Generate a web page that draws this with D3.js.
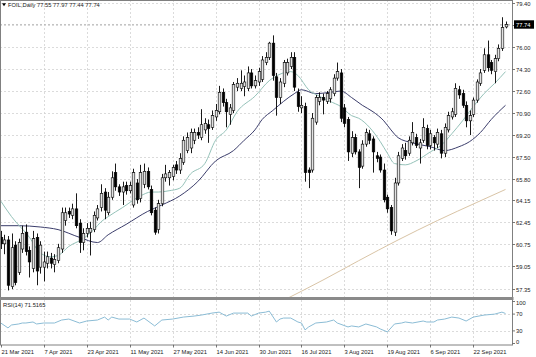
<!DOCTYPE html>
<html><head><meta charset="utf-8">
<script src="https://cdn.jsdelivr.net/npm/d3@7"></script>
<style>
body{margin:0;background:#fff;}
svg{display:block;}
text{font-family:"Liberation Sans",Arial,sans-serif;}
</style>
</head><body>
<svg id="c" width="536" height="357"></svg>
<script>
// ---------- data ----------
const opens  = [61.3,60.8,61.1,57.5,60.7,58.6,60.4,61.7,60.3,58.9,61.3,59.0,59.0,59.3,59.7,59.2,59.5,60.4,62.6,63.3,63.0,63.5,62.4,60.9,61.6,61.7,61.9,62.8,63.6,64.8,63.2,64.4,66.3,65.2,64.8,65.3,64.9,63.8,65.5,64.3,65.4,66.4,65.0,63.4,61.9,63.9,65.9,65.9,66.0,66.9,66.5,67.1,68.0,68.2,68.8,69.4,69.0,69.6,70.0,69.8,70.6,71.0,72.5,71.7,70.8,71.1,72.9,72.8,72.95,72.8,74.0,73.0,73.3,73.5,74.8,75.2,76.3,73.7,72.1,73.2,74.0,74.5,75.2,72.5,71.3,71.4,66.5,66.5,70.2,71.8,72.1,71.8,72.0,72.4,73.6,74.0,71.3,70.4,67.8,69.0,67.9,66.8,68.5,69.3,68.9,67.6,67.5,66.5,64.4,63.6,61.7,65.5,67.4,68.0,67.8,68.6,69.0,68.2,68.8,69.7,68.4,69.0,68.5,69.3,67.8,69.6,70.6,70.8,72.7,72.4,71.5,70.3,70.8,71.9,73.2,74.2,75.4,74.8,74.1,75.1,75.9,77.55];
const highs  = [61.8,61.5,61.4,61.6,61.0,61.2,62.2,62.3,60.6,61.8,61.6,61.0,60.2,60.2,60.1,60.0,60.8,63.6,63.6,63.6,63.9,64.7,62.7,62.0,62.4,62.5,63.3,63.8,65.4,65.1,64.8,66.4,67.0,65.4,65.6,65.6,65.6,66.6,65.8,66.9,67.0,66.7,65.3,63.6,64.2,66.2,66.9,66.5,66.9,67.2,67.8,69.1,69.4,69.7,69.7,69.8,71.2,70.5,70.4,71.1,71.6,73.0,72.8,72.0,71.6,73.3,73.6,74.2,73.8,74.5,74.3,73.8,74.4,75.3,75.6,76.4,76.9,74.0,73.6,75.0,75.1,75.6,75.6,72.8,72.2,71.7,66.7,70.9,72.3,72.5,72.4,72.6,72.9,73.9,74.8,74.3,71.6,70.6,69.5,69.3,68.1,68.8,69.7,69.6,69.1,67.9,67.7,67.0,64.6,63.8,65.9,67.9,68.5,68.6,69.1,70.2,69.3,68.9,70.5,70.0,69.6,69.2,69.7,69.6,70.1,71.0,71.3,73.2,73.0,72.7,71.8,71.1,72.1,73.5,74.3,75.9,76.5,75.0,75.4,76.2,78.3,77.97];
const lows   = [60.4,60.0,57.2,57.3,57.6,58.4,60.1,59.9,58.2,58.6,57.6,58.5,57.9,58.9,58.9,58.6,59.3,60.1,62.2,62.8,62.7,62.0,60.1,60.3,61.3,59.9,61.7,62.6,63.3,62.7,63.0,64.2,64.9,64.5,63.8,64.6,64.7,63.6,63.9,64.0,65.1,65.0,63.0,61.5,61.6,63.7,65.6,65.3,65.7,66.2,66.2,66.9,67.8,67.8,68.5,68.9,68.8,69.3,68.6,69.6,70.3,70.8,71.4,69.8,70.0,70.9,72.6,72.6,72.2,72.6,72.8,72.8,73.0,73.3,74.6,75.0,73.4,70.7,71.6,72.9,73.8,74.3,72.6,71.0,70.9,65.6,65.1,66.3,70.0,71.5,70.8,71.6,71.7,72.2,73.4,70.2,69.8,67.2,67.5,67.7,65.1,66.6,68.3,68.5,66.3,67.1,66.3,64.0,63.2,61.5,61.4,65.3,67.2,67.3,67.6,68.4,68.2,67.0,68.6,68.1,68.1,68.0,68.2,67.4,67.5,69.4,70.4,70.6,72.0,71.3,69.8,69.2,70.6,71.7,73.0,74.0,74.1,73.9,73.2,74.9,75.7,77.44];
const closes = [60.8,61.1,57.6,60.5,57.8,60.9,61.6,60.2,59.4,61.2,58.7,60.7,59.4,59.8,59.3,59.6,60.5,63.2,63.2,63.1,63.5,62.2,60.9,61.6,62.0,62.0,63.0,63.5,64.7,63.4,64.4,65.9,65.2,64.8,65.2,64.9,65.3,66.3,64.2,66.3,66.4,65.2,63.2,61.7,63.9,65.9,66.2,66.3,66.7,66.5,67.4,68.8,69.0,69.4,69.4,69.2,70.0,70.1,69.7,70.7,71.1,72.5,71.7,71.0,71.3,73.1,73.2,73.2,73.3,74.0,73.0,73.4,74.1,75.0,75.2,76.3,73.8,72.1,73.3,74.8,74.8,75.2,72.9,71.4,71.5,66.3,66.3,70.5,72.1,72.1,71.9,72.4,72.7,73.6,74.1,70.5,70.1,67.9,69.0,67.9,66.7,68.5,69.4,68.8,67.9,67.4,66.5,64.2,63.5,61.8,65.5,67.6,68.2,67.6,68.8,69.4,68.4,68.6,69.8,68.4,69.3,68.6,69.4,67.8,69.8,70.7,71.0,72.8,72.3,71.5,70.3,70.7,71.9,73.3,74.0,75.4,74.4,74.2,75.1,75.9,77.5,77.74];

const dateLabels    = ["21 Mar 2021","7 Apr 2021","23 Apr 2021","11 May 2021","27 May 2021","14 Jun 2021","30 Jun 2021","16 Jul 2021","3 Aug 2021","19 Aug 2021","6 Sep 2021","22 Sep 2021"];
const dateLabelBars = [0,12,24,36,48,60,72,84,96,108,120,132];

const priceTicks = [79.40,77.70,76.00,74.30,72.60,70.90,69.20,67.50,65.80,64.15,62.45,60.75,59.05,57.35];
const rsiTicks   = [100,70,30,0];
const rsiLevels  = [70,30];

const maFastBars = [0,3,8,11,14,16,19,23,26,28,30,34,39,42,44,47,50,53,57,60,63,66,71,75,78,81,83,86,89,92,95,98,100,103,106,108,110,113,116,120,123,126,129,132,135,138,141];
const maFastVals = [64.1,62.9,61.3,60.1,59.8,59.9,60.6,61.2,61.9,62.5,62.9,63.6,64.5,64.8,64.8,64.9,65.1,66.2,67.0,68.8,69.6,71.0,72.2,73.4,73.9,74.1,73.8,72.7,72.2,71.8,71.4,70.7,70.5,69.8,68.7,67.8,67.0,66.9,67.2,67.9,68.4,69.3,70.3,71.4,72.4,73.2,74.1];

const maSlowBars = [0,5,11,16,22,27,30,35,41,45,50,55,60,65,68,71,73,76,79,82,84,88,92,95,98,101,104,107,109,111,115,120,124,128,131,134,137,141];
const maSlowVals = [62.2,62.2,62.1,61.9,61.3,60.9,61.5,62.3,63.3,63.8,64.5,65.6,67.2,68.0,68.8,69.6,70.4,71.1,71.8,72.4,72.7,72.4,72.5,72.6,72.1,71.5,71.0,70.3,69.6,69.0,68.6,68.3,68.0,68.3,68.7,69.4,70.4,71.5];

const ma200Bars = [78,90,100,111,122,133,141];
const ma200Vals = [56.3,58.0,59.5,61.1,62.6,64.0,65.0];

const rsiBars = [0,2,3,5,6,7,9,10,12,15,17,19,22,24,27,29,30,31,33,36,38,40,43,45,48,51,54,56,59,61,63,65,69,70,72,74,75,77,78,79,81,83,84,85,86,88,91,93,94,97,98,100,102,105,106,108,110,112,113,115,118,119,121,122,124,126,128,130,132,135,138,140,141];
const rsiVals = [48.8,37.1,44.1,46.5,48.8,48.8,51.2,46.5,48.8,48.8,55.9,58.2,48.8,53.5,55.9,62.9,55.9,62.9,58.2,58.2,51.2,60.6,41.8,55.9,58.2,62.9,65.3,67.6,72.4,74.7,65.3,72.4,72.4,65.3,72.4,74.7,77.1,51.2,58.2,60.6,60.6,51.2,48.8,32.4,39.4,48.8,51.2,55.9,48.8,39.4,41.8,39.4,46.5,39.4,34.7,27.6,46.5,48.8,51.2,48.8,53.5,51.2,51.2,55.9,58.2,62.9,60.6,53.5,62.9,67.6,70.0,74.7,71.5];

const symbolTitle = "FOIL,Daily";
const ohlcTitle = ["77.55","77.97","77.44","77.74"];
const lastPrice = 77.74;
const rsiTitle = "RSI(14) 71.5165";

// ---------- layout ----------
const W = 536, H = 357;
const plotR = 512.5;
const mainTop = 0, mainBot = 297;
const rsiTop = 300, rsiBot = 345;
const fs = 5.8;

const svg = d3.select("#c");
const bars = d3.range(opens.length);

const x = d3.scaleLinear().domain([0, 141]).range([0.8, 505.5]);
const y = d3.scaleLinear().domain([57.35, 79.40]).range([288.5, 3]);
const yr = d3.scaleLinear().domain([0, 100]).range([343.5, 301.5]);

const defs = svg.append("defs");
defs.append("clipPath").attr("id","clipMain").append("rect")
  .attr("x",0).attr("y",mainTop).attr("width",plotR).attr("height",mainBot-mainTop);
defs.append("clipPath").attr("id","clipRsi").append("rect")
  .attr("x",0).attr("y",rsiTop).attr("width",plotR).attr("height",rsiBot-rsiTop);

svg.append("rect").attr("width",W).attr("height",H).attr("fill","#fff");

const gridCol = "#d2d2d2", gridDash = "2,2";

// horizontal grid (main)
svg.append("g").selectAll("line").data(priceTicks).join("line")
  .attr("x1",0).attr("x2",plotR)
  .attr("y1",d=>Math.round(y(d))+0.5).attr("y2",d=>Math.round(y(d))+0.5)
  .attr("stroke",gridCol).attr("stroke-width",0.8).attr("stroke-dasharray",gridDash);

// vertical grid (both panels)
const vg = svg.append("g");
dateLabelBars.slice(1).forEach(b=>{
  const xx = Math.round(x(b))+0.5;
  vg.append("line").attr("x1",xx).attr("x2",xx).attr("y1",mainTop).attr("y2",mainBot)
    .attr("stroke",gridCol).attr("stroke-width",0.8).attr("stroke-dasharray",gridDash);
  vg.append("line").attr("x1",xx).attr("x2",xx).attr("y1",rsiTop).attr("y2",rsiBot)
    .attr("stroke",gridCol).attr("stroke-width",0.8).attr("stroke-dasharray",gridDash);
});

// rsi level lines
svg.append("g").selectAll("line").data(rsiLevels).join("line")
  .attr("x1",0).attr("x2",plotR)
  .attr("y1",d=>Math.round(yr(d))+0.5).attr("y2",d=>Math.round(yr(d))+0.5)
  .attr("stroke",gridCol).attr("stroke-width",0.8).attr("stroke-dasharray",gridDash);

// bid line
svg.append("line").attr("x1",0).attr("x2",plotR)
  .attr("y1",y(lastPrice)).attr("y2",y(lastPrice))
  .attr("stroke","#b4b4b4").attr("stroke-width",0.8).attr("stroke-dasharray","2,2");

// moving averages
const main = svg.append("g").attr("clip-path","url(#clipMain)");
function maLine(barsArr, vals, color, w){
  const pts = barsArr.map((b,i)=>[x(b), y(vals[i])]);
  main.append("path").attr("d", d3.line().curve(d3.curveMonotoneX)(pts))
    .attr("fill","none").attr("stroke",color).attr("stroke-width",w);
}
maLine(ma200Bars, ma200Vals, "#d9c4a6", 1);
maLine(maSlowBars, maSlowVals, "#3b3d6b", 1);
maLine(maFastBars, maFastVals, "#95c2b9", 1);

// candles
const bw = 2.6;
const cg = main.append("g");
cg.selectAll("line.w").data(bars).join("line").attr("class","w")
  .attr("x1",i=>Math.round(x(i))+0.5).attr("x2",i=>Math.round(x(i))+0.5)
  .attr("y1",i=>y(highs[i])).attr("y2",i=>y(lows[i]))
  .attr("stroke","#000").attr("stroke-width",0.9);
cg.selectAll("rect").data(bars).join("rect")
  .attr("x",i=>Math.round(x(i))+0.5-bw/2)
  .attr("width",bw)
  .attr("y",i=>y(Math.max(opens[i],closes[i])))
  .attr("height",i=>Math.max(0.8, Math.abs(y(opens[i])-y(closes[i]))))
  .attr("fill",i=>closes[i]>=opens[i] ? "#e2e2e2" : "#000")
  .attr("stroke","#000").attr("stroke-width",0.6);

// RSI line
const rsiG = svg.append("g").attr("clip-path","url(#clipRsi)");
rsiG.append("path")
  .attr("d", d3.line().x((b,i)=>x(b)).y((b,i)=>yr(rsiVals[i]))(rsiBars))
  .attr("fill","none").attr("stroke","#8bbcd5").attr("stroke-width",1);

// frames
svg.append("rect").attr("x",0.5).attr("y",0.5).attr("width",plotR-0.5).attr("height",rsiBot-0.5)
  .attr("fill","none").attr("stroke","#808080").attr("stroke-width",1);
svg.append("rect").attr("x",0).attr("y",mainBot).attr("width",plotR+1).attr("height",rsiTop-mainBot)
  .attr("fill","#8a8a8a");

// right axis ticks + labels (main)
const ax = svg.append("g");
priceTicks.forEach(p=>{
  const yy = Math.round(y(p))+0.5;
  ax.append("line").attr("x1",plotR).attr("x2",plotR+2.5).attr("y1",yy).attr("y2",yy)
    .attr("stroke","#555").attr("stroke-width",0.8);
  if (Math.abs(p-lastPrice) > 0.2) {
    ax.append("text").attr("x",plotR+3.5).attr("y",yy).attr("dy","0.35em")
      .attr("font-size",fs).attr("fill","#222").text(p.toFixed(2));
  }
});
// last price box
const ly = y(lastPrice);
ax.append("rect").attr("x",plotR+1.5).attr("y",ly-4.2).attr("width",20).attr("height",8.4).attr("fill","#000");
ax.append("text").attr("x",plotR+3.5).attr("y",ly).attr("dy","0.35em")
  .attr("font-size",fs).attr("fill","#fff").text(lastPrice.toFixed(2));

// rsi axis labels
rsiTicks.forEach(v=>{
  let yy = yr(v);
  yy = Math.max(rsiTop+3, Math.min(rsiBot-3, yy));
  ax.append("line").attr("x1",plotR).attr("x2",plotR+2.5).attr("y1",yr(v)).attr("y2",yr(v))
    .attr("stroke","#555").attr("stroke-width",0.8);
  ax.append("text").attr("x",plotR+3.5).attr("y",yy).attr("dy","0.35em")
    .attr("font-size",fs).attr("fill","#222").text(String(v));
});

// x axis labels
dateLabelBars.forEach((b,k)=>{
  const xx = Math.round(x(b))+0.5;
  ax.append("line").attr("x1",xx).attr("x2",xx).attr("y1",rsiBot).attr("y2",rsiBot+2.5)
    .attr("stroke","#555").attr("stroke-width",0.8);
  ax.append("text").attr("x",Math.max(0.5,xx)).attr("y",352).attr("dy","0.35em")
    .attr("font-size",fs).attr("fill","#222").text(dateLabels[k]);
});

// titles
svg.append("path").attr("d","M2,3.2 L6,3.2 L4,6.2 Z").attr("fill","#000");
svg.append("text").attr("x",8).attr("y",5).attr("dy","0.35em").attr("font-size",fs).attr("fill","#222")
  .text(symbolTitle + "  " + ohlcTitle.join(" "));
svg.append("text").attr("x",3).attr("y",305).attr("dy","0.35em").attr("font-size",fs).attr("fill","#222")
  .text(rsiTitle);
</script>
</body></html>
